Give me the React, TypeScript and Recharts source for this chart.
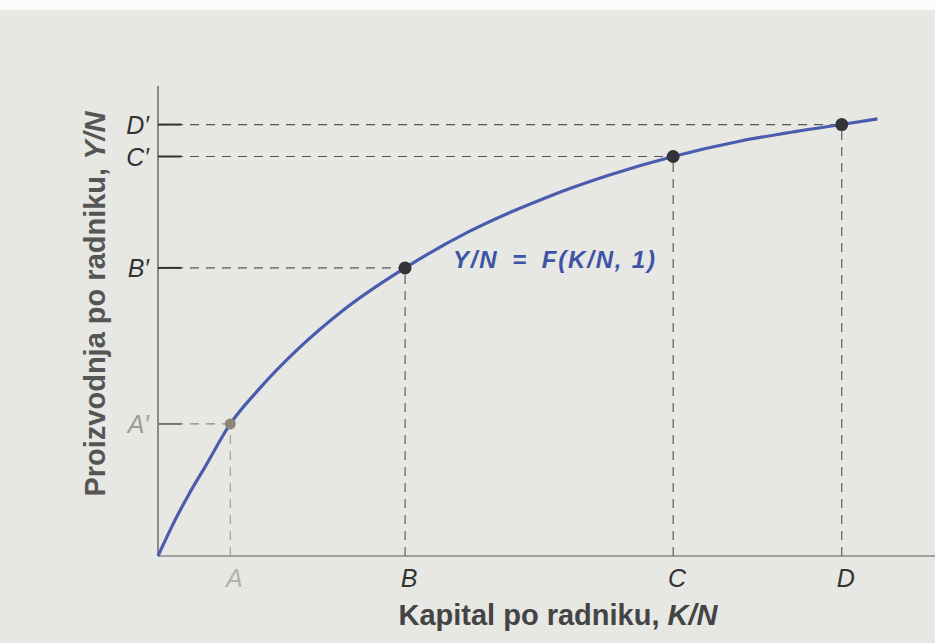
import React from "react";
import { ComposedChart, Line, Scatter, XAxis, YAxis, ReferenceLine } from "recharts";

const curveX = [0, 2, 4, 6, 9.3, 13, 18, 24, 31.8, 40, 50, 58, 66.3, 75, 82, 88, 92.6];
const curveY = [0, 7, 13.2, 18.8, 28.1, 35.5, 44, 52.5, 61.3, 69, 76.3, 81, 85, 88.3, 90.3, 91.8, 93];

const pointLabels = ["A", "B", "C", "D"];
const pointX = [9.3, 31.8, 66.3, 88];
const pointY = [28.1, 61.3, 85, 91.8];

const curveData = curveX.map((x, i) => ({ x, y: curveY[i] }));
const points = pointLabels.map((label, i) => ({ label, x: pointX[i], y: pointY[i] }));
const yLabelData = points.map((p) => ({ label: p.label + "\u2032", x: 0, y: p.y }));
const xLabelData = points.map((p) => ({ label: p.label, x: p.x, y: 0 }));

const W = 935;
const H = 643;
const LEFT = 158;
const TOP = 86;
const BOTTOM = 87;

const font = "'Liberation Sans', Arial, Helvetica, sans-serif";
const narrow = "'Liberation Sans Narrow', 'Arial Narrow', 'Liberation Sans', Arial, sans-serif";

const isA = (l: string) => l.startsWith("A");

const Dot = (props: any) => {
  const { cx, cy, payload } = props;
  const a = isA(payload.label);
  return <circle cx={cx} cy={cy} r={a ? 5.5 : 6.5} fill={a ? "#8d877a" : "#343438"} />;
};

const YLab = (props: any) => {
  const { cx, cy, payload } = props;
  return (
    <text x={cx - 9} y={cy + 9} textAnchor="end" fontFamily={font} fontStyle="italic" fontSize={25}
      fill={isA(payload.label) ? "#9c9c98" : "#333"}>
      {payload.label}
    </text>
  );
};

const XLab = (props: any) => {
  const { cx, cy, payload } = props;
  return (
    <text x={cx + 4} y={cy + 31} textAnchor="middle" fontFamily={font} fontStyle="italic" fontSize={25}
      fill={isA(payload.label) ? "#b4b2aa" : "#333"}>
      {payload.label}
    </text>
  );
};

export default function App() {
  return (
    <div style={{ position: "absolute", left: 0, top: 0, width: W, height: H, background: "#e7e7e3", overflow: "hidden" }}>
      <div style={{ position: "absolute", left: 0, top: 0, width: W, height: 10, background: "#fbfbfa" }} />
      <ComposedChart width={W} height={H} margin={{ top: TOP, right: 0, bottom: BOTTOM, left: LEFT }}>
        <XAxis type="number" dataKey="x" domain={[0, 100]} hide />
        <YAxis type="number" dataKey="y" domain={[0, 100]} hide />
        <ReferenceLine x={0} stroke="#6a6a6a" strokeWidth={1.5} />
        <ReferenceLine y={0} stroke="#8a8a88" strokeWidth={1.5} />
        {points.map((p) => (
          <ReferenceLine key={"h" + p.label}
            segment={[{ x: 0, y: p.y }, { x: p.x, y: p.y }]}
            stroke={isA(p.label) ? "#8a8a86" : "#555"} strokeWidth={1.2} strokeDasharray="9 7" />
        ))}
        {points.map((p) => (
          <ReferenceLine key={"t" + p.label}
            segment={[{ x: 0, y: p.y }, { x: 3, y: p.y }]}
            stroke={isA(p.label) ? "#777" : "#333"} strokeWidth={2} />
        ))}
        {points.map((p) => (
          <ReferenceLine key={"v" + p.label}
            segment={[{ x: p.x, y: 0 }, { x: p.x, y: p.y }]}
            stroke={isA(p.label) ? "#9a9a96" : "#555"} strokeWidth={1.1} strokeDasharray="9 7" />
        ))}
        <Line data={curveData} dataKey="y" type="monotone" stroke="#4a5cae" strokeWidth={3.2} dot={false} isAnimationActive={false} />
        <Scatter data={points} dataKey="y" shape={Dot} isAnimationActive={false} />
        <Scatter data={yLabelData} dataKey="y" shape={YLab} isAnimationActive={false} />
        <Scatter data={xLabelData} dataKey="y" shape={XLab} isAnimationActive={false} />
      </ComposedChart>
      <div style={{ position: "absolute", left: 453, top: 248, lineHeight: "24px", fontFamily: font, fontWeight: "bold", fontStyle: "italic", fontSize: 24, letterSpacing: 1.8, color: "#3d54a6", whiteSpace: "nowrap" }}>
        {"Y/N\u2002=\u2002F(K/N, 1)"}
      </div>
      <div style={{ position: "absolute", left: 0, width: 1116, top: 599, textAlign: "center", fontFamily: narrow, fontWeight: "bold", fontSize: 29, color: "#444", whiteSpace: "nowrap" }}>
        Kapital po radniku, <i>K/N</i>
      </div>
      <div style={{ position: "absolute", left: 95, top: 304, width: 0, height: 0 }}>
        <div style={{ position: "absolute", transform: "translate(-50%, -50%) rotate(-90deg)", fontFamily: narrow, fontWeight: "bold", fontSize: 29, color: "#555", whiteSpace: "nowrap" }}>
          Proizvodnja po radniku, <i>Y/N</i>
        </div>
      </div>
    </div>
  );
}
